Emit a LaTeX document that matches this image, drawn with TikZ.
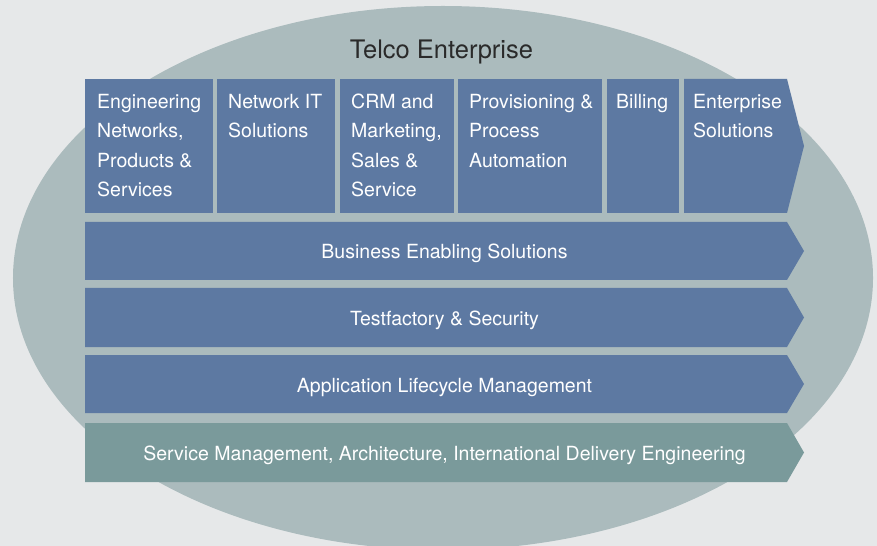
\documentclass[tikz,border=0pt]{standalone}
\usepackage{fontspec}
\setmainfont{TeX Gyre Heros}
\definecolor{bg}{HTML}{E6E8E9}
\definecolor{ell}{HTML}{ABBBBD}
\definecolor{boxblue}{HTML}{5D79A2}
\definecolor{boxteal}{HTML}{7A9A9B}
\definecolor{titlecol}{HTML}{2A2A2A}
\newcommand\chevbar[3]{\fill[#3] (85,#1) -- (787,#1) -- (804,{(#1+#2)/2}) -- (787,#2) -- (85,#2) -- cycle;}
\begin{document}
\begin{tikzpicture}[x=1bp,y=-1bp,
  boxtext/.style={anchor=north west, inner sep=0pt, align=left, text=white, font=\fontsize{19.5bp}{29.5bp}\selectfont},
  bartext/.style={anchor=base, inner sep=0pt, text=white, font=\fontsize{19.5bp}{29.5bp}\selectfont},
  titletext/.style={anchor=base, inner sep=0pt, text=titlecol, font=\fontsize{25.5bp}{30bp}\selectfont},
  blue box/.style={fill=boxblue},
  teal box/.style={fill=boxteal}]
\useasboundingbox (0,0) rectangle (877,546);
\fill[bg] (0,0) rectangle (877,546);
\begin{scope}
\clip (0,0) rectangle (877,546);
\fill[ell] (443,278) ellipse [x radius=430bp, y radius=272bp];
\end{scope}
\node[titletext] (title) at (441.5,58.3) {Telco Enterprise};
% top row
\fill[blue box] (85,79) rectangle (213,213);
\fill[blue box] (217,79) rectangle (335,213);
\fill[blue box] (340,79) rectangle (454,213);
\fill[blue box] (458,79) rectangle (602,213);
\fill[blue box] (607,79) rectangle (679,213);
\fill[blue box] (684,79) -- (787,79) -- (804,146) -- (787,213) -- (684,213) -- cycle;
\node[boxtext] (eng) at (97,87.35) {\strut Engineering\\Networks,\\Products \&\\Services};
\node[boxtext] (net) at (228,87.35) {\strut Network IT\\Solutions};
\node[boxtext] (crm) at (351,87.35) {\strut CRM and\\Marketing,\\Sales \&\\Service};
\node[boxtext] (prov) at (469,87.35) {\strut Provisioning \&\\Process\\Automation};
\node[boxtext] (bill) at (616,87.35) {\strut Billing};
\node[boxtext] (ent) at (693,87.35) {\strut Enterprise\\Solutions};
% bars
\chevbar{222}{280}{blue box}
\chevbar{288}{347}{blue box}
\chevbar{355}{413}{blue box}
\chevbar{423}{482}{teal box}
\node[bartext] (bes) at (444.5,259) {Business Enabling Solutions};
\node[bartext] (tfs) at (444.5,326) {Testfactory \& Security};
\node[bartext] (alm) at (444.5,392) {Application Lifecycle Management};
\node[bartext] (sma) at (444.5,460) {Service Management, Architecture, International Delivery Engineering};
\end{tikzpicture}
\end{document}
